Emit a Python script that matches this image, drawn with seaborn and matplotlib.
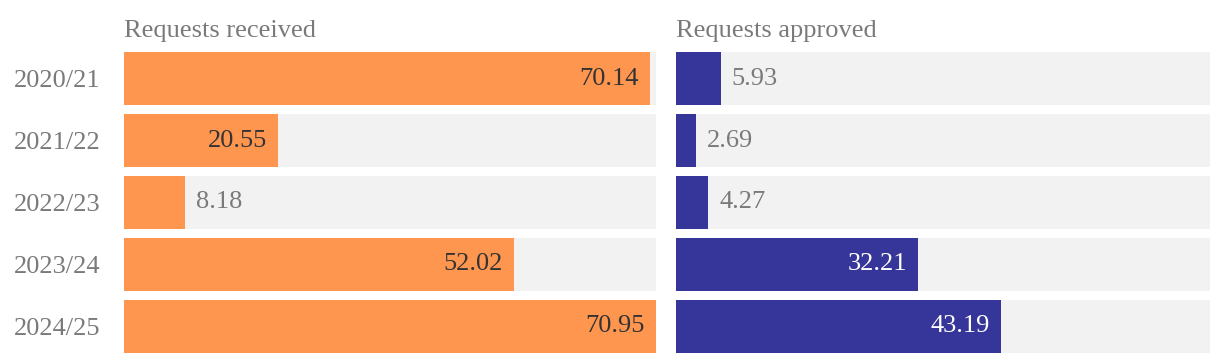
import matplotlib
matplotlib.use("Agg")
import matplotlib.pyplot as plt
import seaborn as sns
import pandas as pd

years = ["2020/21", "2021/22", "2022/23", "2023/24", "2024/25"]
received = [70.14, 20.55, 8.18, 52.02, 70.95]
approved = [5.93, 2.69, 4.27, 32.21, 43.19]
titles = ["Requests received", "Requests approved"]

ORANGE = "#FF964F"
BLUE = "#35359A"
BG = "#F2F2F2"
GREY = "#7A7A7A"

sns.set_style("white")
plt.rcParams["font.family"] = ["Liberation Serif", "DejaVu Serif"]

fig = plt.figure(figsize=(12.2, 3.64), dpi=100)
bottom = 11 / 364
height = 301 / 364
ax1 = fig.add_axes([124 / 1220, bottom, 532 / 1220, height])
ax2 = fig.add_axes([676 / 1220, bottom, 534 / 1220, height])

vmax = max(received)
FS = 19

def panel(ax, vals, color, inside_color, title, show_years):
    df = pd.DataFrame({"year": years, "value": vals, "bg": [vmax] * len(years)})
    sns.barplot(data=df, y="year", x="bg", orient="h", color=BG, width=0.855,
                ax=ax, saturation=1, linewidth=0, edgecolor="none")
    sns.barplot(data=df, y="year", x="value", orient="h", color=color, width=0.855,
                ax=ax, saturation=1, linewidth=0, edgecolor="none")
    ax.set_xlim(0, vmax)
    ax.set_ylim(len(years) - 1 + 0.4275, -0.4275)
    for s in ax.spines.values():
        s.set_visible(False)
    ax.set_xticks([])
    ax.set_xlabel("")
    ax.set_ylabel("")
    ax.tick_params(axis="y", length=0, pad=17, labelsize=FS, labelcolor=GREY)
    if not show_years:
        ax.set_yticklabels([])
    ax.set_title(title, loc="left", fontsize=FS, color=GREY, pad=11)
    for i, v in enumerate(vals):
        if v > 15:
            ax.annotate(f"{v:.2f}", (v, i), xytext=(-8, 0), textcoords="offset points",
                        ha="right", va="center", fontsize=FS, color=inside_color)
        else:
            ax.annotate(f"{v:.2f}", (v, i), xytext=(8, 0), textcoords="offset points",
                        ha="left", va="center", fontsize=FS, color=GREY)

panel(ax1, received, ORANGE, "#333333", titles[0], True)
panel(ax2, approved, BLUE, "white", titles[1], False)

fig.savefig("out.png", dpi=100)
